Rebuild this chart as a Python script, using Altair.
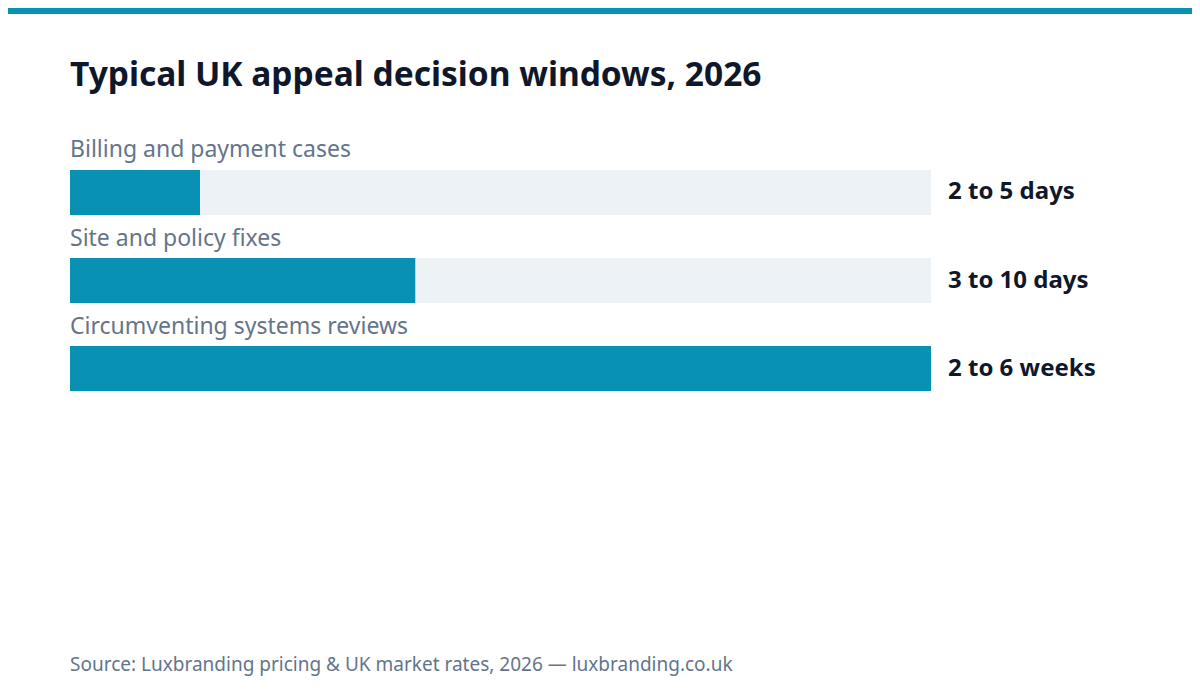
import altair as alt
import pandas as pd

# data
categories = ["Billing and payment cases", "Site and policy fixes", "Circumventing systems reviews"]
share = [0.151, 0.401, 1.0]
window_labels = ["2 to 5 days", "3 to 10 days", "2 to 6 weeks"]

title_text = "Typical UK appeal decision windows, 2026"
source_text = "Source: Luxbranding pricing & UK market rates, 2026 \u2014 luxbranding.co.uk"

df = pd.DataFrame({"cat": categories, "share": share, "label": window_labels, "full": [1.0] * 3})

FONT = "Noto Sans"
TEAL = "#0891b2"
W, H = 1184, 684

xs = alt.Scale(domain=[0, 1], range=[62, 923])
ys = alt.Scale(domain=categories, range=[162, 383], paddingInner=0.489, paddingOuter=0)

base = alt.Chart(df).encode(
    y=alt.Y("cat:N", scale=ys, axis=None, sort=categories)
)

track = base.mark_bar(color="#edf2f7").encode(
    x=alt.X("full:Q", scale=xs, axis=None)
)
fill = base.mark_bar(color=TEAL).encode(
    x=alt.X("share:Q", scale=xs, axis=None)
)
cat_text = base.mark_text(
    align="left", baseline="alphabetic", dy=-35, font=FONT, fontSize=23, color="#64748b"
).encode(x=alt.value(62), text="cat:N")
val_text = base.mark_text(
    align="left", baseline="middle", dx=17, dy=0, font=FONT, fontSize=24, fontWeight="bold", color="#0f172a"
).encode(x=alt.X("full:Q", scale=xs, axis=None), text="label:N")

# top accent strip (page margin keeps it from reaching the very edge)
strip = alt.Chart(pd.DataFrame({"a": [0]})).mark_rect(color=TEAL).encode(
    x=alt.value(0), x2=alt.value(W), y=alt.value(0), y2=alt.value(6)
)

title = alt.Chart(pd.DataFrame({"t": [title_text]})).mark_text(
    align="left", baseline="alphabetic", font=FONT, fontSize=33.5, fontWeight="bold", color="#0f172a"
).encode(x=alt.value(62), y=alt.value(78), text="t:N")

footer = alt.Chart(pd.DataFrame({"t": [source_text]})).mark_text(
    align="left", baseline="alphabetic", font=FONT, fontSize=19, color="#64748b"
).encode(x=alt.value(62), y=alt.value(663), text="t:N")

chart = alt.layer(strip, track, fill, cat_text, val_text, title, footer).properties(
    width=W, height=H, autosize=alt.AutoSizeParams(type="none"), padding=0, background="white"
).configure_view(stroke=None, clip=False)

chart.save("out.html", embed_options={"renderer": "svg", "actions": False})
